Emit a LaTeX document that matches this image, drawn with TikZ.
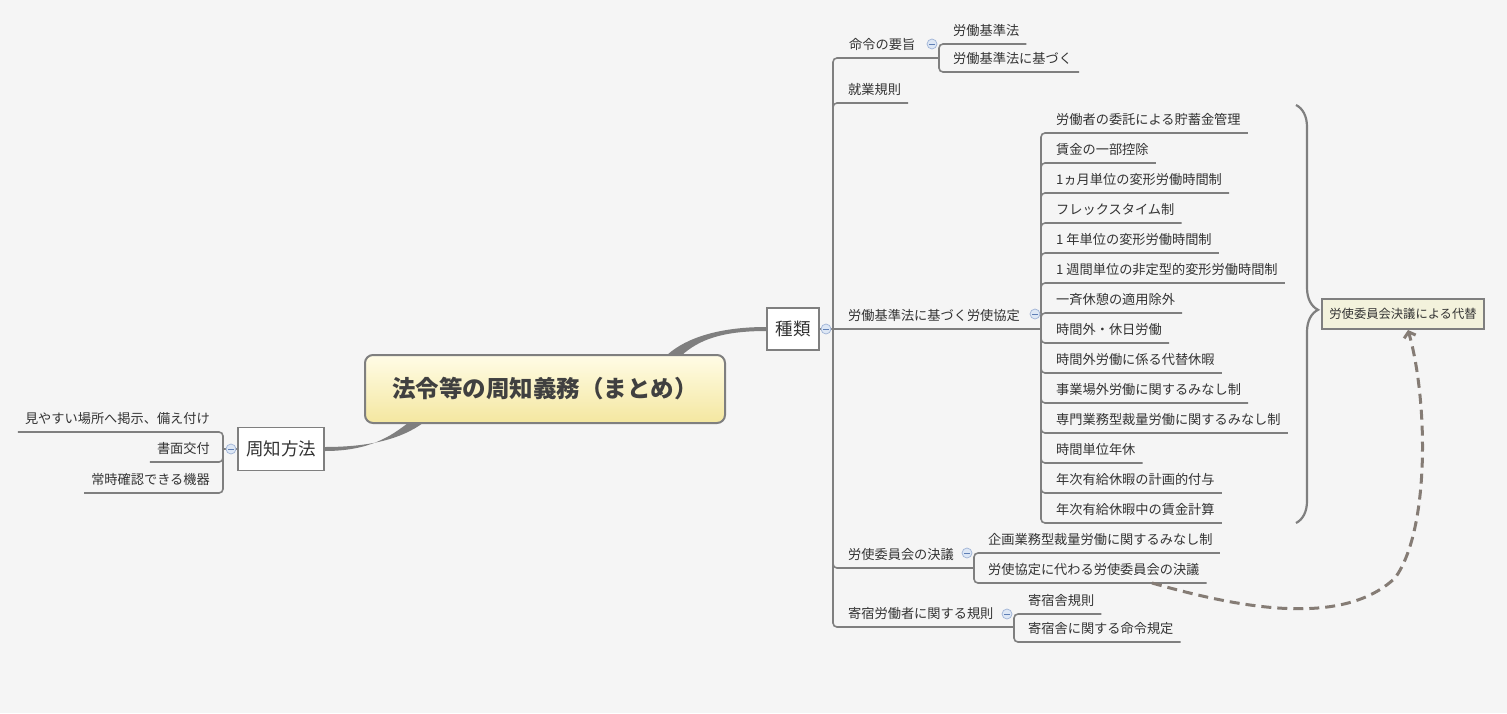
\documentclass[tikz,border=0pt]{standalone}
\usepackage{fontspec}
\setmainfont{Noto Sans CJK JP}
\usetikzlibrary{calc,arrows.meta,decorations.pathreplacing}
\definecolor{bg}{HTML}{F5F5F5}
\definecolor{ln}{HTML}{7F7F7F}
\definecolor{tx}{HTML}{333333}
\definecolor{rootTop}{HTML}{FFFCE6}
\definecolor{rootBot}{HTML}{F4E7A0}
\definecolor{callfill}{HTML}{F3F2DC}
\definecolor{icfill}{HTML}{DDE7F5}
\definecolor{icline}{HTML}{9FB3D6}
\definecolor{icminus}{HTML}{5F7FB5}
\definecolor{dashc}{HTML}{857C75}
\begin{document}
\begin{tikzpicture}[x=1pt,y=-1pt,
  conn/.style={draw=ln, line width=1.6pt, rounded corners=4pt},
  txtfont/.style={font=\fontsize{13.2}{15}\selectfont, text=tx},
  leaf/.style={txtfont, anchor=south west, inner sep=0pt, text depth=8pt, execute at end node={\hspace*{7pt}}},
  leafL/.style={txtfont, anchor=south east, inner sep=0pt, text depth=8pt, execute at begin node={\hspace*{7pt}}},
  plbl/.style={txtfont, anchor=south west, inner sep=0pt, text depth=8pt},
  boxnode/.style={draw=ln, line width=1.5pt, fill=white, text=tx, inner sep=0pt, font=\fontsize{17.5}{20}\selectfont},
  icon/.style={circle, minimum size=10pt, inner sep=0pt, fill=icfill, draw=icline, line width=.7pt,
    path picture={\draw[icminus, line width=.8pt] ([xshift=-2.6pt]path picture bounding box.center) -- ([xshift=2.6pt]path picture bounding box.center);}},
  taper/.style={fill=ln},
  dasharrow/.style={draw=dashc, line width=3pt, dash pattern=on 10pt off 6pt, -{Straight Barb[length=5pt,width=12pt]}},
]
\fill[bg] (0,0) rectangle (1507,713);
\useasboundingbox (0,0) rectangle (1507,713);

% central and first-level nodes
\node[draw=ln, line width=2pt, rounded corners=8pt, top color=rootTop, bottom color=rootBot,
      minimum width=360pt, minimum height=68pt, inner sep=0pt, text=black!75,
      font=\bfseries\fontsize{23.5}{28}\selectfont] (root) at (545,389) {法令等の周知義務（まとめ）};
\node[boxnode, minimum width=52pt, minimum height=42pt] (kind) at (793,329) {種類};
\node[boxnode, minimum width=86pt, minimum height=43pt] (know) at (281,449) {周知方法};
\node[draw=ln, line width=2pt, fill=callfill, minimum width=162pt, minimum height=30pt, inner sep=0pt,
      font=\fontsize{12.3}{14}\selectfont, text=tx] (call) at (1403,314) {労使委員会決議による代替};

% tapered main connectors
\fill[taper] ($(root.north)+(122,1)$) .. controls +(20,-18) and +(-45,0) .. ($(kind.west)+(0,-2)$)
   -- ($(kind.west)+(0,2)$) .. controls +(-45,0) and +(17,-15) .. ($(root.north)+(137,1)$) -- cycle;
\fill[taper] ($(root.south)+(-122,-1)$) .. controls +(-22,16) and +(45,0) .. ($(know.east)+(0,-2)$)
   -- ($(know.east)+(0,2)$) .. controls +(45,0) and +(-17,13) .. ($(root.south)+(-137,-1)$) -- cycle;

% junctions
\coordinate (j0) at (833,329);
\coordinate (jm) at (939,58);
\coordinate (jk) at (1041,329);
\coordinate (ji) at (974,568);
\coordinate (jh) at (1014,627);
\coordinate (jl) at (223,449);

% second level labels
\node[plbl] (mei) at (849,58) {命令の要旨};
\node[leaf] (shu) at (848,103) {就業規則};
\node[plbl] (kyo) at (848,329) {労働基準法に基づく労使協定};
\node[plbl] (iin) at (848,568) {労使委員会の決議};
\node[plbl] (kis) at (848,627) {寄宿労働者に関する規則};

% leaves
\node[leaf] (m1) at (953,44) {労働基準法};
\node[leaf] (m2) at (953,72) {労働基準法に基づく};

\node[leaf] (k1) at (1056,133) {労働者の委託による貯蓄金管理};
\node[leaf] (k2) at (1056,163) {賃金の一部控除};
\node[leaf] (k3) at (1056,193) {1ヵ月単位の変形労働時間制};
\node[leaf] (k4) at (1056,223) {フレックスタイム制};
\node[leaf] (k5) at (1056,253) {1 年単位の変形労働時間制};
\node[leaf] (k6) at (1056,283) {1 週間単位の非定型的変形労働時間制};
\node[leaf] (k7) at (1056,313) {一斉休憩の適用除外};
\node[leaf] (k8) at (1056,343) {時間外・休日労働};
\node[leaf] (k9) at (1056,373) {時間外労働に係る代替休暇};
\node[leaf] (k10) at (1056,403) {事業場外労働に関するみなし制};
\node[leaf] (k11) at (1056,433) {専門業務型裁量労働に関するみなし制};
\node[leaf] (k12) at (1056,463) {時間単位年休};
\node[leaf] (k13) at (1056,493) {年次有給休暇の計画的付与};
\node[leaf] (k14) at (1056,523) {年次有給休暇中の賃金計算};

\node[leaf] (i1) at (988,553) {企画業務型裁量労働に関するみなし制};
\node[leaf] (i2) at (988,583) {労使協定に代わる労使委員会の決議};

\node[leaf] (h1) at (1028,614) {寄宿舎規則};
\node[leaf] (h2) at (1028,642) {寄宿舎に関する命令規定};

\node[leafL] (l1) at (210,432) {見やすい場所へ掲示、備え付け};
\node[leafL] (l2) at (210,462) {書面交付};
\node[leafL] (l3) at (210,493) {常時確認できる機器};

% connectors
\draw[conn] (kind.east) -- (j0);
\draw[conn] (j0) |- (jm);
\draw[conn] (j0) |- (shu.south east);
\draw[conn] (j0) -- (jk);
\draw[conn] (j0) |- (ji);
\draw[conn] (j0) |- (jh);
\foreach \c in {m1,m2} \draw[conn] (jm) |- (\c.south east);
\foreach \c in {k1,k2,k3,k4,k5,k6,k7,k8,k9,k10,k11,k12,k13,k14} \draw[conn] (jk) |- (\c.south east);
\foreach \c in {i1,i2} \draw[conn] (ji) |- (\c.south east);
\foreach \c in {h1,h2} \draw[conn] (jh) |- (\c.south east);
\draw[conn] (know.west) -- (jl);
\foreach \c in {l1,l2,l3} \draw[conn] (jl) |- (\c.south west);

% summary brace
\coordinate (brT) at (1296,105);
\coordinate (brB) at (1296,523);
\draw[ln, line width=2.2pt, decorate, decoration={brace, amplitude=22pt, aspect=0.49}] (brT) -- (brB);

% relationship arrow
\coordinate (ds) at ($(i2.south west)!0.75!(i2.south east)$);
\draw[dasharrow] (ds) .. controls (1230,605) and (1340,630) .. (1395,578)
   .. controls (1430,530) and (1428,400) .. ([xshift=5pt]call.south);

% collapse icons
\node[icon] (ic1) at (826,329) {};
\node[icon] (ic2) at (231,449) {};
\node[icon] (ic3) at (932,44) {};
\node[icon] (ic4) at (1035,314) {};
\node[icon] (ic5) at (967,553) {};
\node[icon] (ic6) at (1007,614) {};
\end{tikzpicture}
\end{document}
